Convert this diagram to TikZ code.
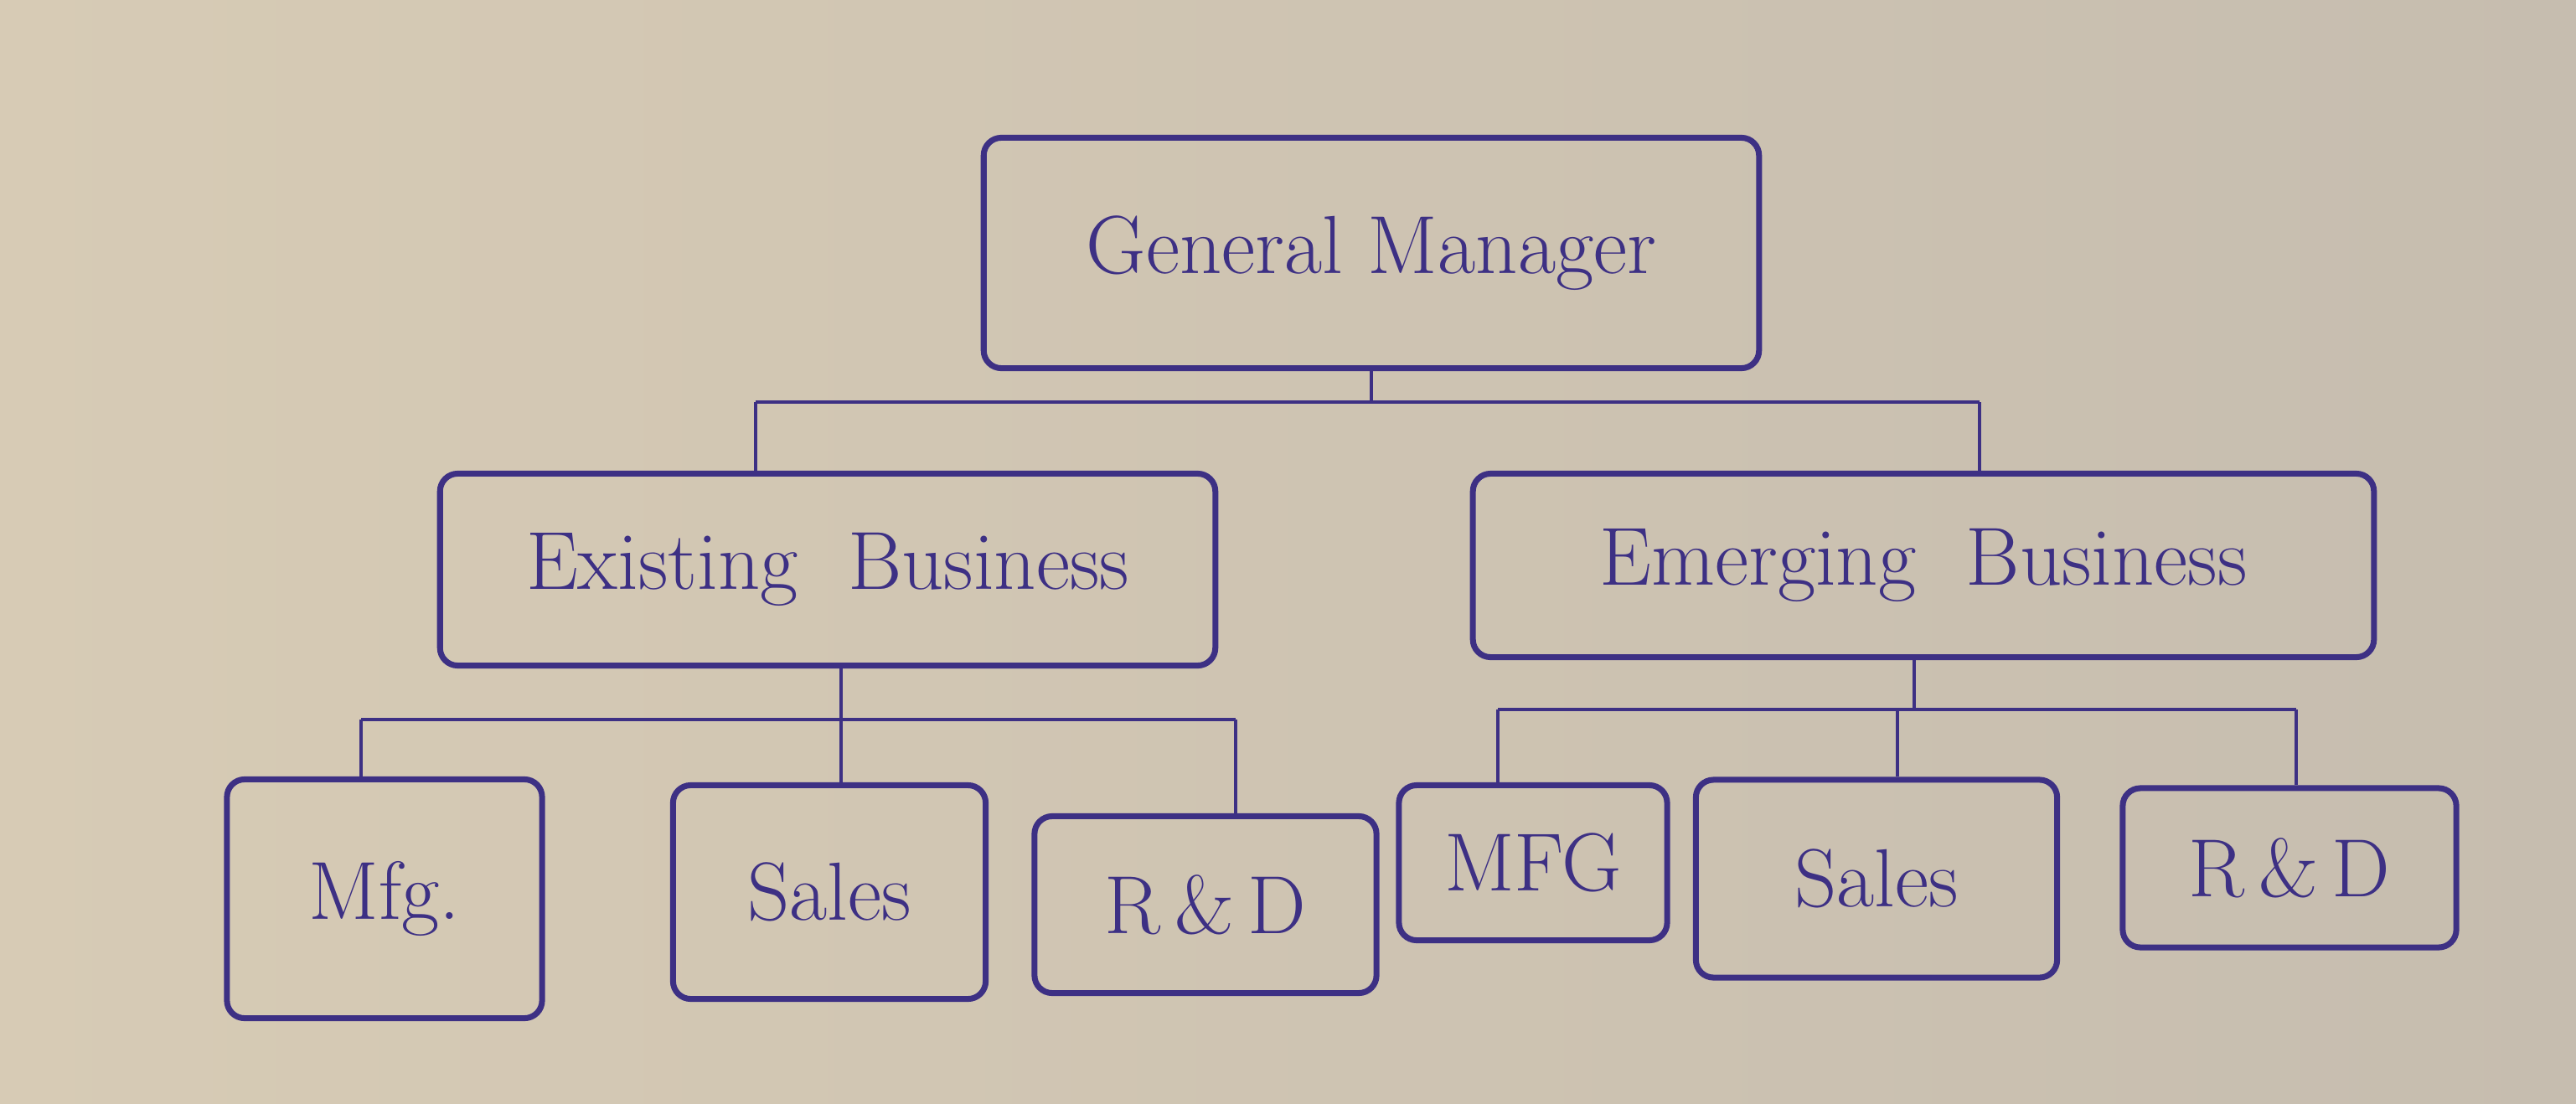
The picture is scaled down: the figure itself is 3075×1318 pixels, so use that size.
\documentclass[tikz,border=0pt]{standalone}
\usepackage{xcolor}
\definecolor{ink}{HTML}{3D3084}
\definecolor{paperL}{HTML}{D7CBB5}
\definecolor{paperM}{HTML}{E1D7C3}
\definecolor{paperR}{HTML}{C6BDAF}
\tikzset{
  box/.style={draw=ink, line width=2pt, rounded corners=6pt, inner sep=0pt,
    text=ink, font=\fontsize{28}{34}\selectfont},
  conn/.style={draw=ink, line width=1.4pt}
}
\begin{document}
\begin{tikzpicture}[x=0.01cm, y=-0.01cm]
\shade[left color=paperL, middle color=paperM, right color=paperR] (0,0) rectangle (3075,1318);
\useasboundingbox (0,0) rectangle (3075,1318);

% boxes
\node[box, minimum width=9.25cm, minimum height=2.75cm] (gm) at (1637,302) {General Manager};
\node[box, minimum width=9.25cm, minimum height=2.29cm] (ex) at (988,680) {Existing\ \ Business};
\node[box, minimum width=10.75cm, minimum height=2.19cm] (em) at (2296,675) {Emerging\ \ Business};
\node[box, minimum width=3.76cm, minimum height=2.85cm] (mfg1) at (459,1073) {Mfg.};
\node[box, minimum width=3.73cm, minimum height=2.55cm] (sal1) at (990,1065) {Sales};
\node[box, minimum width=4.08cm, minimum height=2.11cm] (rd1) at (1439,1080) {R\,\&\,D};
\node[box, minimum width=3.20cm, minimum height=1.85cm] (mfg2) at (1830,1030) {MFG};
\node[box, minimum width=4.31cm, minimum height=2.36cm] (sal2) at (2240,1049) {Sales};
\node[box, minimum width=3.98cm, minimum height=1.90cm] (rd2) at (2733,1036) {R\,\&\,D};

% top level connectors
\coordinate (gmB) at (1637,480);
\coordinate (dEx) at (902,480);
\coordinate (dEm) at (2363,480);
\draw[conn] (gm.south) -- (gmB);
\draw[conn] (dEx) -- (dEm);
\draw[conn] (dEx) -- (dEx |- ex.north);
\draw[conn] (dEm) -- (dEm |- em.north);

% existing business connectors
\coordinate (exB) at (1004,859);
\coordinate (dM1) at (431,859);
\coordinate (dR1) at (1475,859);
\draw[conn] (exB |- ex.south) -- (exB);
\draw[conn] (dM1) -- (dR1);
\draw[conn] (dM1) -- (dM1 |- mfg1.north);
\draw[conn] (exB) -- (exB |- sal1.north);
\draw[conn] (dR1) -- (dR1 |- rd1.north);

% emerging business connectors
\coordinate (emB) at (2285,847);
\coordinate (dM2) at (1788,847);
\coordinate (dS2) at (2265,847);
\coordinate (dR2) at (2741,847);
\draw[conn] (emB |- em.south) -- (emB);
\draw[conn] (dM2) -- (dR2);
\draw[conn] (dM2) -- (dM2 |- mfg2.north);
\draw[conn] (dS2) -- (dS2 |- sal2.north);
\draw[conn] (dR2) -- (dR2 |- rd2.north);
\end{tikzpicture}
\end{document}
